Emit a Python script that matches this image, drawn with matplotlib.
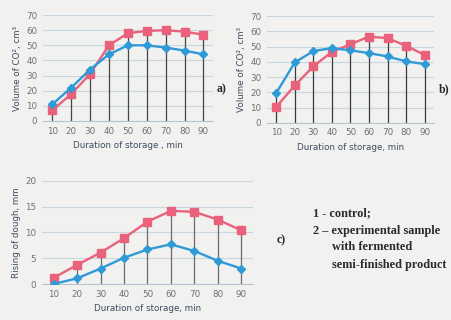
import numpy as np
import matplotlib
matplotlib.use('Agg')
import matplotlib.pyplot as plt

# Data
minutes = [10, 20, 30, 40, 50, 60, 70, 80, 90]

co2_a_control = [11, 22, 34, 44, 50, 50, 48.5, 46.5, 44]
co2_a_exper = [7, 17.8, 31, 50, 58, 59.5, 60, 59, 57]

co2_b_control = [19.6, 39.6, 47, 49, 47.5, 45.7, 43.5, 40.3, 38.5]
co2_b_exper = [10.5, 24.5, 37, 46.5, 51.5, 56.5, 55.5, 50.5, 44.5]

rise_control = [0, 1.1, 3.0, 5.1, 6.7, 7.7, 6.4, 4.5, 3.0]
rise_exper = [1.2, 3.7, 6.1, 8.9, 12.1, 14.2, 14.0, 12.5, 10.4]

blue = '#2f9ad6'
red = '#e9617b'
bg = '#f1f1f0'
grid_c = '#c9d6de'
txt_c = '#3c4e60'
tick_c = '#707070'

fig = plt.figure(figsize=(4.51, 3.2), dpi=100, facecolor=bg)


def panel(rect, ctrl, expr, ymax, ystep, ylabel, xlabel, drop_c):
    ax = fig.add_axes(rect)
    ax.set_facecolor(bg)
    top = np.maximum(ctrl, expr)
    ax.vlines(minutes, 0, top, colors=drop_c, linewidth=0.9, zorder=2)
    ax.plot(minutes, expr, color=red, marker='s', markersize=5.5,
            linewidth=1.7, zorder=3)
    ax.plot(minutes, ctrl, color=blue, marker='D', markersize=4.2,
            linewidth=1.7, zorder=4)
    ax.set_xlim(5, 95)
    ax.set_ylim(0, ymax)
    ax.set_xticks(minutes)
    ax.set_yticks(np.arange(0, ymax + 0.1, ystep))
    ax.yaxis.grid(True, color=grid_c, linewidth=0.8)
    ax.set_axisbelow(True)
    for s in ['left', 'right', 'top']:
        ax.spines[s].set_visible(False)
    ax.spines['bottom'].set_color('#b8c4cc')
    ax.tick_params(axis='both', length=0, labelsize=6.3, colors=tick_c, pad=4)
    ax.set_ylabel(ylabel, fontsize=6.3, color=txt_c, labelpad=3)
    ax.set_xlabel(xlabel, fontsize=6.3, color=txt_c, labelpad=4)
    return ax


panel([0.095, 0.622, 0.377, 0.331], co2_a_control, co2_a_exper, 70, 10,
      'Volume of CO², cm³', 'Duration of storage , min', '#454545')
panel([0.592, 0.616, 0.370, 0.334], co2_b_control, co2_b_exper, 70, 10,
      'Volume of CO², cm³', 'Duration of storage, min', '#3a3a3a')
panel([0.093, 0.1125, 0.468, 0.322], rise_control, rise_exper, 20, 5,
      'Rising of dough, mm', 'Duration of storage, min', '#6a6a6a')

serif = dict(family='Liberation Serif', fontweight='bold', color='#2a2a2a')
fig.text(0.481, 0.72, 'a)', fontsize=8.5, va='center', **serif)
fig.text(0.972, 0.72, 'b)', fontsize=8.5, va='center', **serif)
fig.text(0.614, 0.25, 'c)', fontsize=8.5, va='center', **serif)

fig.text(0.694, 0.334, '1 - control;', fontsize=8.8, va='center', **serif)
fig.text(0.694, 0.278, '2 \u2013 experimental sample', fontsize=8.8,
         va='center', **serif)
fig.text(0.736, 0.228, 'with fermented', fontsize=8.8, va='center', **serif)
fig.text(0.736, 0.172, 'semi-finished product', fontsize=8.8,
         va='center', **serif)

plt.savefig('out.png', dpi=100, facecolor=bg)
